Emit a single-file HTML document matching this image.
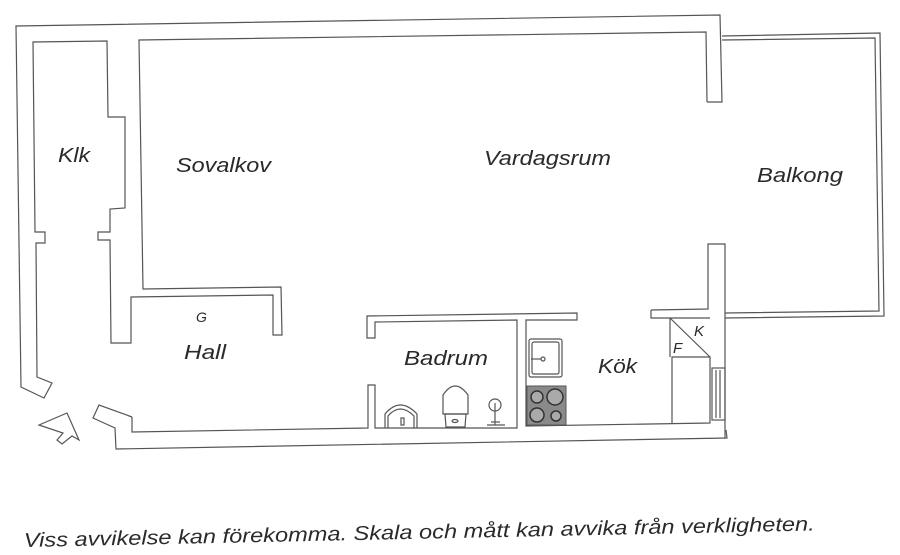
<!DOCTYPE html>
<html><head><meta charset="utf-8"><style>
html,body{margin:0;padding:0;background:#fff;width:900px;height:555px;overflow:hidden}
svg{display:block}
text{font-family:"Liberation Sans",sans-serif;font-style:italic;fill:#2a2a2a}
</style></head><body>
<svg width="900" height="555" viewBox="0 0 900 555" xmlns="http://www.w3.org/2000/svg">
<g fill="none" stroke="#555" stroke-width="1.2" stroke-linejoin="miter">
<polyline points="707,102 722,102 720,15 16,26 21,387 44,398 52,383 37,377 36,243 45,243 45,232 35,232 33,42 107,41 108,117 125,117 125,208 110,209 110,232 98,232 98,240 110,240 111,343 131,343 131,297 273,295 273,335 282,335 281,287 143,289 139,40 706,32 707,102"/>
<polyline points="132,417 99,405 93,418 115,428 116,449 727,438 726,430"/>
<polyline points="132,417 132,432 368,428 368,385 375,385 375,428 517,428 517,320 375,322 375,338 367,338 367,316 577,313 577,320 526,320 526,426 710,423 710,357 672,357 672,423"/>
<polyline points="651,310 708,309 708,244 725,244 725,438"/>
<polyline points="651,310 651,318 670,318 670,357"/>
<line x1="670" y1="318" x2="710" y2="318"/>
<line x1="670" y1="318" x2="710" y2="357"/>
<rect x="712" y="368" width="13" height="52"/>
<line x1="716" y1="370" x2="716" y2="418"/><line x1="720" y1="370" x2="720" y2="418"/>
<polyline points="722,36 880,33 884,316 725,318"/>
<polyline points="722,40 875,38 879,311 725,313"/>
<polygon points="39,425 67,413 79,440 72,436 62,444 57,440 63,433"/>
<rect x="529" y="339" width="33" height="38" rx="2"/>
<rect x="532" y="342" width="27" height="32" rx="2"/>
<circle cx="543" cy="359" r="2"/>
<line x1="531" y1="359" x2="541" y2="359"/>
<path d="M385,428 L385,414 Q400,396 417,414 L417,428"/>
<path d="M388,428 L388,416 Q400,402 414,416 L414,428"/>
<rect x="401" y="418" width="3" height="7"/>
<path d="M443,414 L443,395 Q455,377 468,395 L468,414 Z"/>
<path d="M445,414 L466,414 L465,427 L446,427 Z"/>
<ellipse cx="455" cy="421" rx="3" ry="1.5"/>
<circle cx="495" cy="405" r="6"/>
<line x1="495" y1="403" x2="495" y2="425"/>
<line x1="487" y1="425" x2="505" y2="425"/>
<line x1="491" y1="422" x2="500" y2="422"/>
</g>
<rect x="527" y="386" width="39" height="39" fill="#8a8a8a" stroke="#555"/>
<g fill="#aaa" stroke="#333" stroke-width="1.5">
<circle cx="537" cy="397" r="6"/><circle cx="555" cy="397" r="8"/>
<circle cx="537" cy="415" r="7"/><circle cx="556" cy="416" r="5"/>
</g>
<text x="58" y="162" font-size="20" textLength="32" lengthAdjust="spacingAndGlyphs">Klk</text>
<text x="176" y="172" font-size="20" textLength="95" lengthAdjust="spacingAndGlyphs">Sovalkov</text>
<text x="484" y="165" font-size="20" textLength="127" lengthAdjust="spacingAndGlyphs">Vardagsrum</text>
<text x="757" y="182" font-size="20" textLength="86" lengthAdjust="spacingAndGlyphs">Balkong</text>
<text x="196" y="322" font-size="14">G</text>
<text x="184" y="359" font-size="20" textLength="42" lengthAdjust="spacingAndGlyphs">Hall</text>
<text x="404" y="365" font-size="20" textLength="84" lengthAdjust="spacingAndGlyphs">Badrum</text>
<text x="598" y="373" font-size="20" textLength="39" lengthAdjust="spacingAndGlyphs">Kök</text>
<text x="673" y="353" font-size="15">F</text>
<text x="694" y="336" font-size="15">K</text>
<text x="24" y="547" font-size="20" textLength="791" lengthAdjust="spacingAndGlyphs" transform="rotate(-1.2 24 547)">Viss avvikelse kan förekomma. Skala och mått kan avvika från verkligheten.</text>
</svg>
</body></html>
